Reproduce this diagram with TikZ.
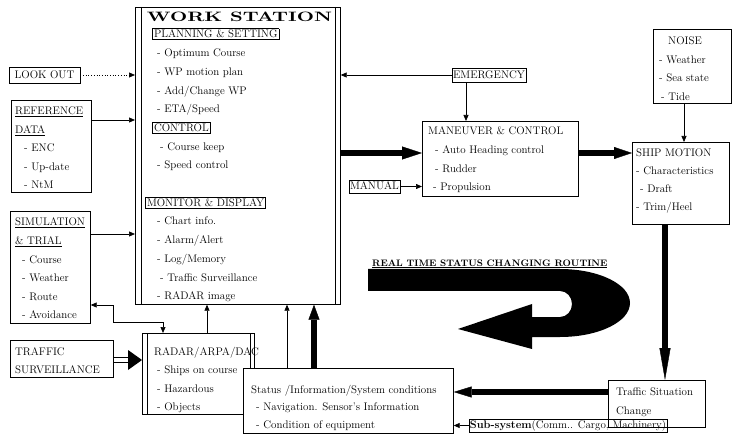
\documentclass[tikz,border=0pt]{standalone}
\usepackage{fontspec}
\usepackage{graphicx}
\usetikzlibrary{arrows.meta}
\setlength{\fboxsep}{1.2pt}
\setlength{\fboxrule}{0.6pt}
\newcommand\Lns[1]{\begin{tabular}[t]{@{}l@{}}#1\end{tabular}}
\newcommand\ind[1]{\hspace*{#1pt}}
\begin{document}
\begin{tikzpicture}[x=1pt,y=-1pt,
 box/.style={draw, line width=0.7pt, inner sep=0pt, anchor=north west},
 txt/.style={anchor=base west, inner sep=0pt, font=\fontsize{11}{#1}\selectfont},
 txt/.default=18.5,
 tag/.style={draw, line width=0.6pt, inner xsep=1pt, inner ysep=1.5pt, text height=7.6pt, text depth=1.5pt, font=\fontsize{11}{13}\selectfont},
 arr/.style={line width=0.7pt, -{Triangle[length=6pt,width=5pt]}},
 fat/.style args={#1/#2/#3}{line width=#1, -{Triangle[length=#2,width=#3,line width=0.4pt]}},
]
\fill[white] (0,0) rectangle (740,441);
\useasboundingbox (0,0) rectangle (740,441);

% ---------- work station ----------
\node[box, minimum width=205pt, minimum height=297pt] (ws) at (135,7) {};
\draw[line width=0.7pt] ([xshift=6pt]ws.north west) -- ([xshift=6pt]ws.south west);
\draw[line width=0.7pt] ([xshift=-5pt]ws.north east) -- ([xshift=-5pt]ws.south east);
\node[inner sep=0pt] (wstitle) at (239.5,17) {\resizebox{185pt}{9.5pt}{\bfseries WORK STATION}};
\node[txt=18.7] (wstext) at (152,38) {\Lns{\fbox{PLANNING \& SETTING}\\
\ind{5}- Optimum Course\\ \ind{5}- WP motion plan\\ \ind{5}- Add/Change WP\\ \ind{5}- ETA/Speed\\
\fbox{CONTROL}\\ \ind{8}- Course keep\\ \ind{5}- Speed control\\ \\
\ind{-7}\fbox{MONITOR \& DISPLAY}\\ \ind{5}- Chart info.\\ \ind{5}- Alarm/Alert\\ \ind{5}- Log/Memory\\ \ind{8}- Traffic Surveillance\\ \ind{5}- RADAR image}};

% ---------- left column ----------
\node[tag, minimum width=71pt, minimum height=16pt] (look) at (44.5,75) {LOOK OUT};

\node[box, minimum width=80pt, minimum height=92pt] (ref) at (11,100) {};
\node[txt] (reft) at (15,115) {\Lns{\underline{REFERENCE}\\ \underline{DATA}\\ \ind{9}- ENC\\ \ind{9}- Up-date\\ \ind{9}- NtM}};

\node[box, minimum width=80pt, minimum height=112pt] (sim) at (10,211) {};
\node[txt=18.6] (simt) at (15,226) {\Lns{\underline{SIMULATION}\\ \underline{\& TRIAL}\\ \ind{7}- Course\\ \ind{7}- Weather\\ \ind{7}- Route\\ \ind{7}- Avoidance}};

\node[box, minimum width=103pt, minimum height=37pt] (tsv) at (10,340) {};
\node[txt=18] (tsvt) at (15,355) {\Lns{TRAFFIC\\ SURVEILLANCE}};

% ---------- radar ----------
\node[box, minimum width=112pt, minimum height=81pt] (radar) at (142,333) {};
\draw[line width=0.7pt] ([xshift=5pt]radar.north west) -- ([xshift=5pt]radar.south west);
\draw[line width=0.7pt] ([xshift=-4pt]radar.north east) -- ([xshift=-4pt]radar.south east);
\node[txt=18.6] (radart) at (154,355) {\Lns{RADAR/ARPA/DAC\\ \ind{3}- Ships on course\\ \ind{3}- Hazardous\\ \ind{3}- Objects}};

% ---------- status ----------
\node[box, fill=white, minimum width=210pt, minimum height=65pt] (status) at (243,368) {};
\node[txt=17.5] (statust) at (251,393) {\Lns{Status /Information/System conditions\\ \ind{5}- Navigation. Sensor's Information\\ \ind{5}- Condition of equipment}};

% ---------- right side ----------
\node[tag, minimum height=14pt] (emer) at (489,75) {EMERGENCY};
\node[tag, minimum height=13pt] (manual) at (374.5,186.5) {MANUAL};

\node[box, minimum width=156pt, minimum height=75pt] (man) at (422,121) {};
\node[txt=18.6] (mant) at (428,135) {\Lns{MANEUVER \& CONTROL\\ \ind{7}- Auto Heading control\\ \ind{7}- Rudder\\ \ind{5}- Propulsion}};

\node[box, minimum width=78pt, minimum height=74pt] (noise) at (653,29) {};
\node[txt=18.5] (noiset) at (659,45) {\Lns{\ind{9}NOISE\\ - Weather\\ - Sea state\\ \ind{2}- Tide}};

\node[box, minimum width=97pt, minimum height=82pt] (ship) at (632,142) {};
\node[txt=17.8] (shipt) at (636,157) {\Lns{SHIP MOTION\\ - Characteristics\\ \ind{4}- Draft\\ - Trim/Heel}};

\node[box, minimum width=97pt, minimum height=47pt] (tsc) at (608,380) {};
\node[txt=20] (tsct) at (616,395) {\Lns{Traffic Situation\\ Change}};

\node[tag, minimum height=13pt] (sub) at (568,425.5) {\textbf{Sub-system}(Comm.. Cargo, Machinery)};

% ---------- real time routine ----------
\node[anchor=base west, inner sep=0pt, font=\fontsize{9.4}{11}\selectfont\bfseries] (rt) at (372,266) {\underline{REAL TIME STATUS CHANGING ROUTINE}};
\fill (368,269) -- (560,269)
  .. controls (598.7,269) and (630,284.2) .. (630,303)
  .. controls (630,321.8) and (598.7,337) .. (560,337)
  -- (532,337) -- (532,349) -- (458,329) -- (532,304) -- (532,317) -- (560,317)
  .. controls (566.6,317) and (572,311.2) .. (572,304)
  .. controls (572,296.8) and (566.6,291) .. (560,291)
  -- (368,291) -- cycle;

% ---------- connectors ----------
\draw[arr, dotted] (look.east) -- (ws.west |- look.east);
\draw[arr] (ref.east |- 0,120) -- (ws.west |- 0,120);
\draw[arr] (sim.east |- 0,234) -- (ws.west |- 0,234);
\draw[line width=0.7pt, {Triangle[length=6pt,width=5pt]}-{Triangle[length=6pt,width=5pt]}]
  (sim.east |- 0,305) -| (113,322) -| (radar.north -| 163,0);
\draw[line width=0.6pt, double, double distance=4pt, shorten >=13pt] (tsv.east |- 0,360) -- (radar.west |- 0,360);
\fill (radar.west |- 0,360) -- ++(-14,-10) -- ++(0,20) -- cycle;
\draw[arr] (radar.north -| 207,0) -- (ws.south -| 207,0);
\draw[arr] (status.north -| 287,0) -- (ws.south -| 287,0);
\draw[fat=6pt/15pt/11pt] (status.north -| 314,0) -- (ws.south -| 314,0);
\draw[arr] (emer.west) -- (ws.east |- emer.west);
\draw[arr] (emer.south -| 466,0) -- (man.north -| 466,0);
\draw[arr] (manual.east) -- (man.west |- manual.east);
\draw[arr] (noise.south -| 684,0) -- (ship.north -| 684,0);
\draw[arr] (sub.west) -- (status.east |- sub.west);
\draw[fat=6pt/20pt/13pt] (ws.east |- 0,153) -- (man.west |- 0,153);
\draw[fat=6pt/18pt/12pt] (man.east |- 0,153) -- (ship.west |- 0,153);
\draw[fat=5.5pt/32pt/11pt] (ship.south -| 665,0) -- (tsc.north -| 665,0);
\draw[fat=5.5pt/18pt/11pt] (tsc.west |- 0,392) -- (status.east |- 0,392);
\end{tikzpicture}
\end{document}
